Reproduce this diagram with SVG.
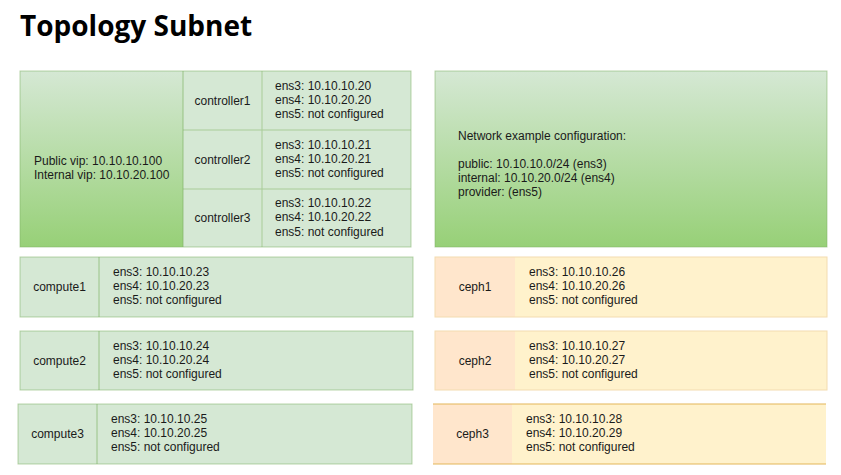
<svg xmlns="http://www.w3.org/2000/svg" width="841" height="475" viewBox="0 0 841 475">
  <defs>
    <linearGradient id="gGreen" x1="0" y1="0" x2="0" y2="1">
      <stop offset="0" stop-color="#d5e8d4"/>
      <stop offset="1" stop-color="#97d077"/>
    </linearGradient>
    <style>
      .t { font-family: "Liberation Sans", Arial, sans-serif; font-size: 12px; fill: #1a1a1a; }
      .c { text-anchor: middle; }
      .title { font-family: "Open Sans", "Noto Sans", sans-serif; font-weight: bold; font-size: 28px; fill: #000; }
      .g { fill: #d5e8d4; }
      .grad { fill: url(#gGreen); }
      .gb { fill: none; stroke: #82b366; stroke-opacity: 0.55; stroke-width: 1; }
      .gl { stroke: #a9cc98; stroke-width: 1; }
      .gdiv { stroke: #82b366; stroke-opacity: 0.7; stroke-width: 1; }
      .o1 { fill: #ffe6cc; }
      .o2 { fill: #fff2cc; }
      .ob { fill: none; stroke: #f3dcb0; stroke-width: 1; }
      .ob3 { fill: none; stroke: #e3b658; stroke-width: 1.2; }
    </style>
  </defs>
  <rect width="841" height="475" fill="#ffffff"/>

  <text id="title" class="title" x="20" y="36">Topology Subnet</text>

  <g id="controllers">
    <rect class="grad" x="20" y="71" width="163" height="176"/>
    <rect class="g" x="183" y="71" width="228" height="176"/>
    <line class="gl" x1="183" y1="130" x2="411" y2="130"/>
    <line class="gl" x1="183" y1="189" x2="411" y2="189"/>
    <line class="gl" x1="262" y1="71" x2="262" y2="247"/>
    <line class="gdiv" x1="183" y1="71" x2="183" y2="247"/>
    <rect class="gb" x="20" y="71" width="391" height="176"/>
    <g id="vip">
      <text class="t" x="34" y="165">Public vip: 10.10.10.100</text>
      <text class="t" x="34" y="179">Internal vip: 10.10.20.100</text>
    </g>
    <g id="controller1">
      <text class="t c" x="222.5" y="105">controller1</text>
      <text class="t" x="275" y="90">ens3: 10.10.10.20</text>
      <text class="t" x="275" y="104">ens4: 10.10.20.20</text>
      <text class="t" x="275" y="118">ens5: not configured</text>
    </g>
    <g id="controller2">
      <text class="t c" x="222.5" y="164">controller2</text>
      <text class="t" x="275" y="149">ens3: 10.10.10.21</text>
      <text class="t" x="275" y="163">ens4: 10.10.20.21</text>
      <text class="t" x="275" y="177">ens5: not configured</text>
    </g>
    <g id="controller3">
      <text class="t c" x="222.5" y="222">controller3</text>
      <text class="t" x="275" y="207">ens3: 10.10.10.22</text>
      <text class="t" x="275" y="221">ens4: 10.10.20.22</text>
      <text class="t" x="275" y="236">ens5: not configured</text>
    </g>
  </g>

  <g id="network-config">
    <rect class="grad" x="435" y="71" width="392" height="176"/>
    <rect class="gb" x="435" y="71" width="392" height="176" stroke-opacity="0.3"/>
    <text class="t" x="458" y="140">Network example configuration:</text>
    <text class="t" x="458" y="168">public: 10.10.10.0/24 (ens3)</text>
    <text class="t" x="458" y="182">internal: 10.10.20.0/24 (ens4)</text>
    <text class="t" x="458" y="196">provider: (ens5)</text>
  </g>

  <g id="compute1">
    <rect class="g" x="20" y="257" width="393" height="60"/>
    <line class="gdiv" x1="99" y1="257" x2="99" y2="317"/>
    <rect class="gb" x="20" y="257" width="393" height="60"/>
    <text class="t c" x="59.5" y="291">compute1</text>
    <text class="t" x="113" y="276">ens3: 10.10.10.23</text>
    <text class="t" x="113" y="290">ens4: 10.10.20.23</text>
    <text class="t" x="113" y="304">ens5: not configured</text>
  </g>
  <g id="compute2">
    <rect class="g" x="20" y="331" width="393" height="59"/>
    <line class="gdiv" x1="99" y1="331" x2="99" y2="390"/>
    <rect class="gb" x="20" y="331" width="393" height="59"/>
    <text class="t c" x="59.5" y="365">compute2</text>
    <text class="t" x="113" y="350">ens3: 10.10.10.24</text>
    <text class="t" x="113" y="364">ens4: 10.10.20.24</text>
    <text class="t" x="113" y="378">ens5: not configured</text>
  </g>
  <g id="compute3">
    <rect class="g" x="18" y="404" width="394" height="60"/>
    <line class="gdiv" x1="97" y1="404" x2="97" y2="464"/>
    <rect class="gb" x="18" y="404" width="394" height="60" stroke-opacity="0.75"/>
    <text class="t c" x="57.5" y="438">compute3</text>
    <text class="t" x="111" y="423">ens3: 10.10.10.25</text>
    <text class="t" x="111" y="437">ens4: 10.10.20.25</text>
    <text class="t" x="111" y="451">ens5: not configured</text>
  </g>

  <g id="ceph1">
    <rect class="o1" x="435" y="257" width="80" height="60"/>
    <rect class="o2" x="515" y="257" width="312" height="60"/>
    <rect class="ob" x="435" y="257" width="392" height="60"/>
    <text class="t c" x="475" y="291">ceph1</text>
    <text class="t" x="529" y="276">ens3: 10.10.10.26</text>
    <text class="t" x="529" y="290">ens4: 10.10.20.26</text>
    <text class="t" x="529" y="304">ens5: not configured</text>
  </g>
  <g id="ceph2">
    <rect class="o1" x="435" y="331" width="80" height="59"/>
    <rect class="o2" x="515" y="331" width="312" height="59"/>
    <rect class="ob" x="435" y="331" width="392" height="59"/>
    <text class="t c" x="475" y="365">ceph2</text>
    <text class="t" x="529" y="350">ens3: 10.10.10.27</text>
    <text class="t" x="529" y="364">ens4: 10.10.20.27</text>
    <text class="t" x="529" y="378">ens5: not configured</text>
  </g>
  <g id="ceph3">
    <rect class="o1" x="433" y="404" width="79" height="60"/>
    <rect class="o2" x="512" y="404" width="314" height="60"/>
    <line class="ob3" x1="433" y1="404" x2="826" y2="404"/>
    <line class="ob3" x1="433" y1="464" x2="826" y2="464"/>
    <text class="t c" x="472.5" y="438">ceph3</text>
    <text class="t" x="526" y="423">ens3: 10.10.10.28</text>
    <text class="t" x="526" y="437">ens4: 10.10.20.29</text>
    <text class="t" x="526" y="451">ens5: not configured</text>
  </g>
</svg>
